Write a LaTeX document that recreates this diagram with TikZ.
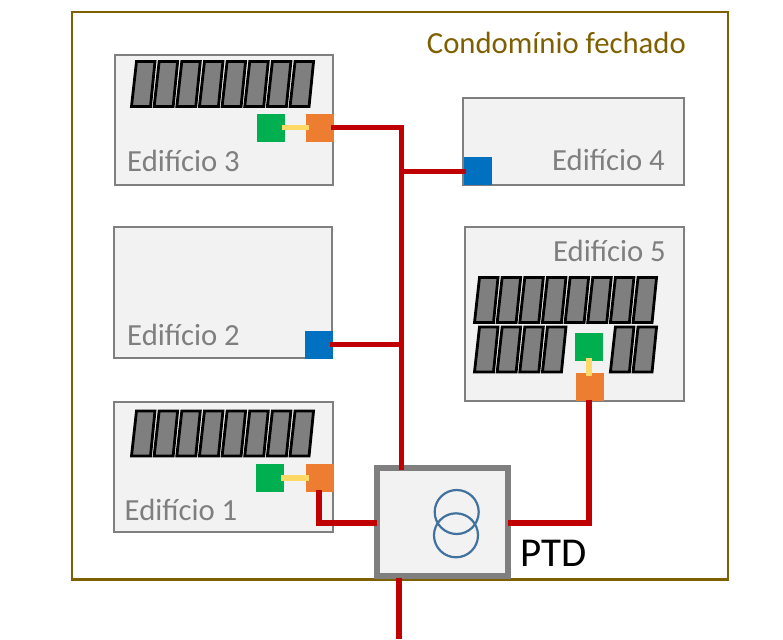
\documentclass[tikz,border=0pt]{standalone}
\usepackage{fontspec}
\setmainfont{Carlito}
\definecolor{framecol}{HTML}{7F6000}
\definecolor{grayline}{HTML}{7F7F7F}
\definecolor{fillgray}{HTML}{F2F2F2}
\definecolor{redline}{HTML}{C00000}
\definecolor{greenbox}{HTML}{00B050}
\definecolor{orangebox}{HTML}{ED7D31}
\definecolor{bluebox}{HTML}{0070C0}
\definecolor{yellowline}{HTML}{FFD966}
\definecolor{coil}{HTML}{41719C}
\tikzset{
  building/.style={draw=grayline,line width=2.8pt,fill=fillgray,inner sep=0pt,outer sep=0pt,anchor=north west},
  unitbox/.style={inner sep=0pt,outer sep=0pt,minimum size=28pt,draw=none},
  greenunit/.style={unitbox,fill=greenbox},
  orangeunit/.style={unitbox,fill=orangebox},
  blueunit/.style={unitbox,fill=bluebox},
  redwire/.style={draw=redline,line width=5.6pt,line join=miter},
  yellowwire/.style={draw=yellowline,line width=5.5pt},
  panelshape/.style={draw=black,line width=2.8pt,fill=grayline,line join=miter},
  label/.style={text=grayline,font=\fontsize{30.7}{34}\selectfont,inner sep=0pt},
  coilring/.style={circle,draw=coil,line width=2.2pt,minimum size=44pt,inner sep=0pt,outer sep=0pt}
}
\newcommand{\sunpanel}[2]{\draw[panelshape] (#1,#2) -- ++(19,0) -- ++(4.5,-45) -- ++(-18.5,0) -- cycle;}
\newcommand{\panelrow}[3]{\foreach \k in {#3}{\pgfmathsetmacro{\px}{#1+22.65*\k}\sunpanel{\px}{#2}}}
\begin{document}
\begin{tikzpicture}[x=1pt,y=-1pt]
\useasboundingbox (0,0) rectangle (783,639);
\node[draw=framecol,line width=2.5pt,anchor=north west,inner sep=0pt,outer sep=0pt,minimum width=656pt,minimum height=567.5pt] (frame) at (72,12) {};
\node[anchor=east,text=framecol,font=\fontsize{30.7}{34}\selectfont,inner sep=0pt] (title) at (686,43) {Condomínio fechado};
% buildings
\node[building,minimum width=218pt,minimum height=130pt] (b3) at (115,55) {};
\node[building,minimum width=221pt,minimum height=87pt] (b4) at (463,98) {};
\node[building,minimum width=218pt,minimum height=131pt] (b2) at (114,227) {};
\node[building,minimum width=219pt,minimum height=174pt] (b5) at (465,227) {};
\node[building,minimum width=219pt,minimum height=130pt] (b1) at (114,402) {};
\node[label,anchor=west] (t3) at (127,160.5) {Edifício 3};
\node[label,anchor=east] (t4) at (665,159.5) {Edifício 4};
\node[label,anchor=west] (t2) at (127,334.5) {Edifício 2};
\node[label,anchor=east] (t5) at (666,250.5) {Edifício 5};
\node[label,anchor=west] (t1) at (124.5,509.5) {Edifício 1};
% solar panels
\panelrow{131.5}{106.5}{0,...,7}
\panelrow{131.5}{456}{0,...,7}
\panelrow{474.5}{322.5}{0,...,7}
\panelrow{474.5}{372}{0,1,2,3,6,7}
% units
\node[greenunit] (g3) at (271,128) {};
\node[orangeunit] (o3) at (320,128) {};
\node[greenunit] (g1) at (270,478) {};
\node[orangeunit] (o1) at (320,478) {};
\node[greenunit] (g5) at (589,347) {};
\node[orangeunit] (o5) at (589.5,387) {};
\node[blueunit] (u4) at (478,171) {};
\node[blueunit] (u2) at (319,345) {};
% substation
\node[draw=grayline,line width=6pt,fill=fillgray,inner sep=0pt,outer sep=0pt,anchor=north west,minimum width=131pt,minimum height=108pt] (ptd) at (377,468) {};
\node[coilring] (c1) at (456.7,512) {};
\node[coilring] (c2) at (456,535.3) {};
\node[anchor=west,inner sep=0pt,font=\fontsize{41}{45}\selectfont] (ptdlabel) at (520.5,553) {PTD};
% junctions
\coordinate (j3) at (401.5,127.5);
\coordinate (j4) at (401.5,171.5);
\coordinate (j2) at (401.5,344.5);
\coordinate (jb) at (401.5,469.5);
\coordinate (k1) at (319,523);
\coordinate (k5) at (589,523);
\coordinate (out) at (398.7,639);
% wires
\draw[redwire] ([xshift=-3pt]o3.east |- j3) -- (j3) -- (jb);
\draw[redwire] (j4) -- ([xshift=2pt]u4.west |- j4);
\draw[redwire] ([xshift=-3pt]u2.east |- j2) -- (j2);
\draw[redwire] ([yshift=2pt]k1 |- o1.south) -- (k1) -- (ptd.west |- k1);
\draw[redwire] (ptd.east |- k5) -- (k5) -- ([yshift=1pt]k5 |- o5.south);
\draw[redwire] ([yshift=-2pt]out |- ptd.south) -- (out);
\draw[yellowwire] ([xshift=-3pt,yshift=.5pt]g3.east) -- ([xshift=3pt,yshift=.5pt]o3.west);
\draw[yellowwire] ([xshift=-3pt]g1.east) -- ([xshift=3pt]o1.west);
\draw[yellowwire] ([yshift=3pt]g5.south) -- ([yshift=-3pt]g5.south |- o5.north);
\end{tikzpicture}
\end{document}
